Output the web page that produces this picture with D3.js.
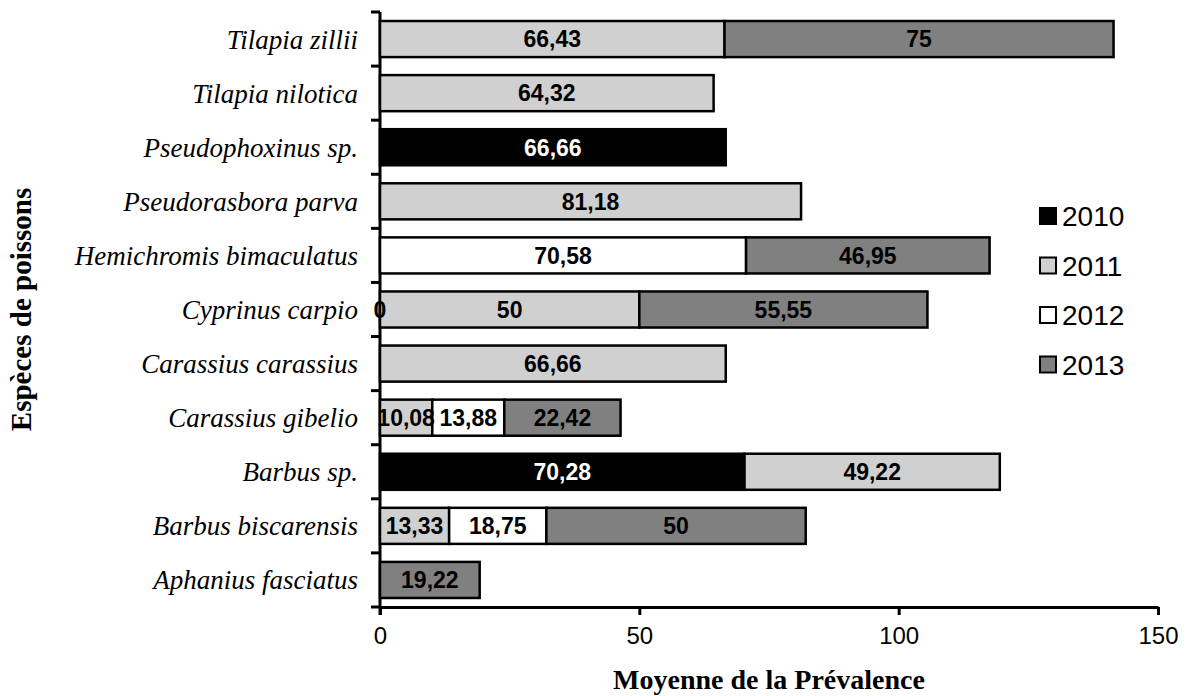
<!DOCTYPE html>
<html>
<head>
<meta charset="utf-8">
<script src="https://cdn.jsdelivr.net/npm/d3@7/dist/d3.min.js"></script>
<style>
  html, body { margin: 0; padding: 0; background: #fff; }
  svg { display: block; }
</style>
</head>
<body>
<svg id="chart" width="1191" height="696"></svg>
<script>
// ---- Data ----
const categories = [
  "Tilapia zillii",
  "Tilapia nilotica",
  "Pseudophoxinus sp.",
  "Pseudorasbora parva",
  "Hemichromis bimaculatus",
  "Cyprinus carpio",
  "Carassius carassius",
  "Carassius gibelio",
  "Barbus sp.",
  "Barbus biscarensis",
  "Aphanius fasciatus"
];
const years = ["2010", "2011", "2012", "2013"];
const values2010 = [null, null, 66.66, null, null, 0, null, null, 70.28, null, null];
const values2011 = [66.43, 64.32, null, 81.18, null, 50, 66.66, 10.08, 49.22, 13.33, null];
const values2012 = [null, null, null, null, 70.58, null, null, 13.88, null, 18.75, null];
const values2013 = [75, null, null, null, 46.95, 55.55, null, 22.42, null, 50, 19.22];
const xTicks = [0, 50, 100, 150];
const colors = { "2010": "#000000", "2011": "#d0d0d0", "2012": "#ffffff", "2013": "#808080" };
const textColors = { "2010": "#ffffff", "2011": "#000000", "2012": "#000000", "2013": "#000000" };

const seriesValues = { "2010": values2010, "2011": values2011, "2012": values2012, "2013": values2013 };
const table = categories.map((c, i) => {
  const row = { cat: c };
  years.forEach(y => { row[y] = seriesValues[y][i]; });
  return row;
});

// ---- Layout ----
const svg = d3.select("#chart");
const mLeft = 380, mRight = 1158, mTop = 12, mBottom = 607;

const x = d3.scaleLinear().domain([0, 150]).range([mLeft, mRight]);
const y = d3.scaleBand().domain(categories).range([mTop, mBottom]).paddingInner(0.333).paddingOuter(0.1667);

const stack = d3.stack().keys(years).value((d, k) => d[k] == null ? 0 : d[k]);
const stacked = stack(table);

// bars
const g = svg.append("g");
stacked.forEach(layer => {
  const key = layer.key;
  layer.forEach((seg, i) => {
    const v = table[i][key];
    if (v == null || v === 0) return;
    g.append("rect")
      .attr("x", x(seg[0]))
      .attr("y", y(table[i].cat))
      .attr("width", x(seg[1]) - x(seg[0]))
      .attr("height", y.bandwidth())
      .attr("fill", colors[key])
      .attr("stroke", "#000")
      .attr("stroke-width", 2.5);
  });
});

// x axis
const xAxis = d3.axisBottom(x).tickValues(xTicks).tickSize(8).tickSizeOuter(0).tickPadding(12);
const xg = svg.append("g").attr("transform", `translate(0,${mBottom})`).call(xAxis);
xg.select(".domain").attr("stroke", "#000").attr("stroke-width", 3);
xg.selectAll(".tick line").attr("stroke", "#000").attr("stroke-width", 3);
xg.selectAll(".tick text")
  .attr("font-family", "'Liberation Sans', Arial, sans-serif")
  .attr("font-size", 24)
  .attr("fill", "#000");

// y axis (line + boundary ticks)
svg.append("line")
  .attr("x1", mLeft).attr("x2", mLeft)
  .attr("y1", mTop).attr("y2", mBottom + 8)
  .attr("stroke", "#000").attr("stroke-width", 3);
const boundaries = d3.range(categories.length + 1).map(i => mTop + i * (mBottom - mTop) / categories.length);
svg.selectAll(".ytick").data(boundaries).enter().append("line")
  .attr("x1", mLeft - 9).attr("x2", mLeft)
  .attr("y1", d => d).attr("y2", d => d)
  .attr("stroke", "#000").attr("stroke-width", 3);

// bar labels
stacked.forEach(layer => {
  const key = layer.key;
  layer.forEach((seg, i) => {
    const v = table[i][key];
    if (v == null) return;
    g.append("text")
      .attr("x", (x(seg[0]) + x(seg[1])) / 2)
      .attr("y", y(table[i].cat) + y.bandwidth() / 2)
      .attr("dy", "0.36em")
      .attr("text-anchor", "middle")
      .attr("font-family", "'Liberation Sans', Arial, sans-serif")
      .attr("font-weight", "bold")
      .attr("font-size", 23)
      .attr("fill", v === 0 ? "#000" : textColors[key])
      .text(String(v).replace(".", ","));
  });
});
g.raise();

// y labels
svg.selectAll(".ylab").data(categories).enter().append("text")
  .attr("x", mLeft - 22)
  .attr("y", d => y(d) + y.bandwidth() / 2)
  .attr("dy", "0.35em")
  .attr("text-anchor", "end")
  .attr("font-family", "'Liberation Serif', 'Times New Roman', serif")
  .attr("font-style", "italic")
  .attr("font-size", 27)
  .attr("fill", "#000")
  .text(d => d);

// axis titles
svg.append("text")
  .attr("x", (mLeft + mRight) / 2)
  .attr("y", 689)
  .attr("text-anchor", "middle")
  .attr("font-family", "'Liberation Serif', 'Times New Roman', serif")
  .attr("font-weight", "bold")
  .attr("font-size", 28)
  .text("Moyenne de la Prévalence");

svg.append("text")
  .attr("transform", `translate(31,${(mTop + mBottom) / 2}) rotate(-90)`)
  .attr("text-anchor", "middle")
  .attr("font-family", "'Liberation Serif', 'Times New Roman', serif")
  .attr("font-weight", "bold")
  .attr("font-size", 29)
  .text("Espèces de poissons");

// legend
const legend = svg.append("g");
years.forEach((yr, i) => {
  const cy = 216 + i * 49.5;
  legend.append("rect")
    .attr("x", 1040).attr("y", cy - 8)
    .attr("width", 16).attr("height", 16)
    .attr("fill", colors[yr]).attr("stroke", "#000").attr("stroke-width", 2);
  legend.append("text")
    .attr("x", 1062).attr("y", cy)
    .attr("dy", "0.36em")
    .attr("font-family", "'Liberation Sans', Arial, sans-serif")
    .attr("font-size", 28)
    .attr("fill", "#000")
    .text(yr);
});
</script>
</body>
</html>
